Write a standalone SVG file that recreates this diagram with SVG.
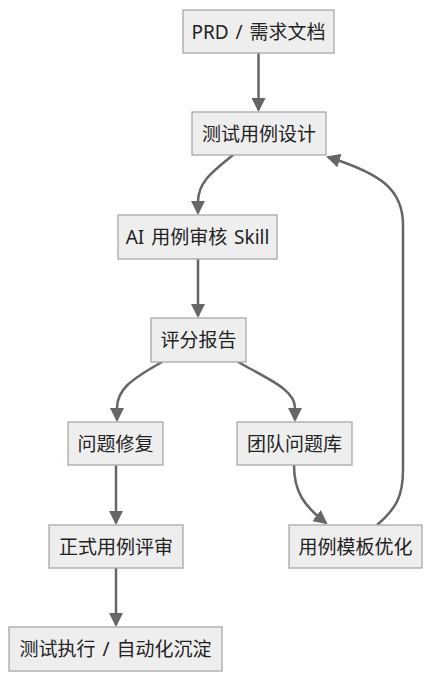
<svg xmlns="http://www.w3.org/2000/svg" width="432" height="680" viewBox="0 0 432 680">
<style>
.node rect{fill:#eeeeee;stroke:#a8a8a8;stroke-width:1.3}
.node text{font-family:"Noto Sans","Noto Sans CJK SC",sans-serif;font-size:19px;fill:#222;text-anchor:middle;dominant-baseline:central;word-spacing:2px}
.edges path{fill:none;stroke:#666;stroke-width:2.5}
</style>
<defs>
<marker id="arr" markerUnits="userSpaceOnUse" viewBox="0 0 14 14" markerWidth="14" markerHeight="14" refX="12" refY="7" orient="auto">
<path d="M0,0 L14,7 L0,14 z" fill="#666"/>
</marker>
</defs>
<rect width="432" height="680" fill="#ffffff"/>
<g class="edges">
<path d="M258.5,53 L258.5,110" marker-end="url(#arr)"/>
<path d="M233,155 C212,172 198,182 198,202 L198,213" marker-end="url(#arr)"/>
<path d="M198,259 L198,316" marker-end="url(#arr)"/>
<path d="M162,362 C130,380 117,390 117,408 L117,420" marker-end="url(#arr)"/>
<path d="M238,362 C270,380 295,390 295,408 L295,420" marker-end="url(#arr)"/>
<path d="M116,465 L116,523" marker-end="url(#arr)"/>
<path d="M294,465 C294,492 304,506 326,523" marker-end="url(#arr)"/>
<path d="M377,525 C397,508 403,495 403,470 L403,225 C403,190 382,174 328,157" marker-end="url(#arr)"/>
<path d="M116,568 L116,625" marker-end="url(#arr)"/>
</g>
<g id="n1" class="node"><rect x="183" y="10" width="151" height="43"/><text x="258.5" y="31.5">PRD / 需求文档</text></g>
<g id="n2" class="node"><rect x="192" y="112" width="134" height="43"/><text x="259" y="133.5">测试用例设计</text></g>
<g id="n3" class="node"><rect x="118" y="215" width="159" height="44"/><text x="197.5" y="237">AI 用例审核 Skill</text></g>
<g id="n4" class="node"><rect x="151" y="318" width="95" height="44"/><text x="198.5" y="340">评分报告</text></g>
<g id="n5" class="node"><rect x="68" y="422" width="95" height="43"/><text x="115.5" y="443.5">问题修复</text></g>
<g id="n6" class="node"><rect x="237" y="422" width="115" height="43"/><text x="294.5" y="443.5">团队问题库</text></g>
<g id="n7" class="node"><rect x="49" y="525" width="134" height="43"/><text x="116" y="546.5">正式用例评审</text></g>
<g id="n8" class="node"><rect x="289" y="525" width="133" height="43"/><text x="355.5" y="546.5">用例模板优化</text></g>
<g id="n9" class="node"><rect x="9" y="627" width="213" height="44"/><text x="115.5" y="649">测试执行 / 自动化沉淀</text></g>
</svg>
